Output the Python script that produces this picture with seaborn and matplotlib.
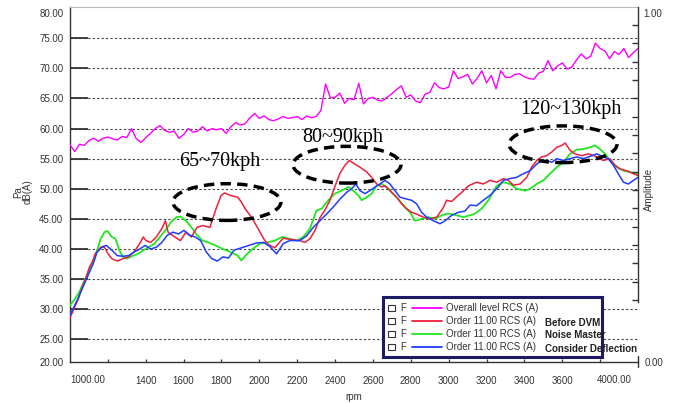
import numpy as np
import pandas as pd
import matplotlib
matplotlib.use('Agg')
import matplotlib.pyplot as plt
import seaborn as sns
from matplotlib.patches import Ellipse, Rectangle
from matplotlib.lines import Line2D

sns.set_theme(style='white')
plt.rcParams['font.family'] = ['Liberation Sans', 'DejaVu Sans']

# ---------------- data ----------------
overall_rpm = np.arange(1000, 4001, 25)
overall_db = [
    57.3, 56.2, 57.4, 57.2, 58.0, 58.4, 57.9, 58.4, 58.6, 58.3,
    58.1, 58.7, 58.5, 60.0, 58.3, 57.7, 58.5, 59.2, 60.0, 60.5,
    59.7, 59.4, 59.6, 58.4, 59.0, 60.0, 59.4, 59.6, 60.3, 59.6,
    60.0, 59.8, 60.0, 59.2, 60.3, 61.0, 60.6, 60.8, 61.8, 62.5,
    61.7, 62.1, 61.5, 61.3, 61.6, 62.0, 61.7, 61.8, 62.0, 61.5,
    62.1, 61.8, 62.0, 63.0, 67.4, 65.1, 65.2, 65.9, 64.2, 65.0,
    64.8, 67.5, 64.1, 65.0, 65.2, 64.7, 64.6, 65.2, 65.8, 66.5,
    67.1, 65.2, 65.6, 64.6, 64.3, 65.7, 66.0, 67.6, 66.8, 66.6,
    66.9, 69.6, 68.3, 68.6, 69.0, 67.4, 68.3, 69.6, 67.6, 68.8,
    66.6, 69.6, 68.5, 68.5, 69.0, 69.1, 68.6, 68.3, 68.2, 69.2,
    69.5, 71.3, 69.6, 70.4, 70.9, 69.9, 70.2, 71.4, 72.4, 71.6,
    72.0, 74.2, 73.3, 72.9, 71.6, 72.8, 72.3, 73.3, 71.8, 72.6,
    73.3]

red_rpm = [1000, 1006, 1025, 1045, 1064, 1084, 1103, 1120, 1133, 1150, 1162, 1182, 1201, 1221, 1250,
           1280, 1309, 1338, 1368, 1387, 1401, 1426, 1456, 1485, 1504, 1518, 1544, 1583, 1612, 1641,
           1671, 1700, 1739, 1768, 1798, 1817, 1847, 1886, 1905, 1925, 1964, 1993, 2023, 2042, 2056,
           2082, 2109, 2126, 2162, 2214, 2241, 2267, 2294, 2320, 2347, 2373, 2399, 2426, 2452, 2475,
           2505, 2531, 2567, 2593, 2620, 2646, 2664, 2690, 2725, 2752, 2778, 2804, 2831, 2866, 2901,
           2937, 2972, 2989, 3016, 3042, 3069, 3104, 3148, 3183, 3218, 3254, 3289, 3315, 3342, 3377,
           3412, 3438, 3465, 3491, 3518, 3544, 3571, 3597, 3615, 3641, 3667, 3703, 3738, 3782, 3817,
           3852, 3879, 3905, 3940, 3976, 4000]
red_db = [28.6, 29.0, 30.4, 31.8, 33.7, 35.2, 37.0, 38.0, 39.2, 39.8, 40.3, 40.3, 39.2, 38.4, 38.0,
          38.4, 38.7, 39.5, 40.9, 42.0, 41.4, 41.1, 42.0, 43.4, 44.7, 42.8, 42.2, 41.4, 42.8, 42.0,
          43.6, 43.9, 43.6, 46.4, 48.9, 49.3, 48.9, 48.6, 47.8, 46.7, 45.0, 43.4, 41.7, 40.9, 40.6,
          40.2, 41.2, 41.8, 41.6, 41.4, 41.1, 41.7, 43.1, 45.2, 46.5, 48.1, 50.4, 52.6, 53.9, 54.7,
          54.1, 53.6, 52.8, 51.9, 50.8, 50.3, 50.5, 49.7, 48.6, 47.5, 46.7, 46.1, 45.8, 45.3, 45.0,
          45.3, 46.9, 48.1, 47.9, 48.7, 49.4, 50.5, 51.1, 50.8, 51.4, 51.1, 51.7, 51.4, 50.6, 50.8,
          51.9, 53.6, 54.7, 55.3, 55.5, 56.1, 56.9, 57.2, 57.6, 56.4, 55.8, 55.5, 55.8, 55.3, 54.7,
          55.0, 53.9, 53.3, 53.0, 52.5, 52.2]

green_rpm = [1000, 1045, 1084, 1123, 1143, 1162, 1182, 1197, 1221, 1240, 1260, 1280, 1299, 1328, 1358,
             1387, 1416, 1446, 1475, 1504, 1534, 1563, 1583, 1612, 1641, 1671, 1700, 1729, 1768, 1808,
             1847, 1886, 1905, 1935, 1964, 2003, 2042, 2081, 2121, 2160, 2199, 2232, 2267, 2302, 2329,
             2364, 2399, 2435, 2470, 2496, 2523, 2540, 2567, 2593, 2620, 2646, 2672, 2699, 2734, 2769,
             2796, 2822, 2857, 2893, 2928, 2963, 2998, 3042, 3077, 3113, 3139, 3174, 3210, 3254, 3289,
             3324, 3359, 3403, 3430, 3465, 3500, 3535, 3571, 3606, 3641, 3676, 3711, 3747, 3773, 3799,
             3826, 3852, 3887, 3923, 3958, 4000]
green_db = [30.6, 32.6, 35.3, 38.1, 39.8, 41.7, 42.8, 43.0, 42.0, 41.7, 39.8, 38.7, 38.4, 38.8, 39.2,
            39.8, 40.3, 40.9, 42.0, 43.1, 44.5, 45.3, 45.4, 44.7, 43.6, 42.3, 41.4, 41.1, 40.6, 40.0,
            39.5, 38.9, 38.1, 39.2, 40.0, 40.9, 41.1, 41.4, 42.0, 41.7, 41.4, 42.0, 43.4, 46.4, 46.7,
            48.1, 49.2, 49.7, 50.3, 49.7, 48.9, 48.1, 48.6, 49.2, 50.5, 50.8, 50.3, 49.4, 48.3, 46.9,
            46.1, 44.7, 45.0, 45.3, 45.0, 45.6, 45.9, 45.6, 45.3, 45.6, 45.9, 46.7, 48.1, 50.5, 51.1,
            50.8, 50.0, 49.7, 50.0, 50.8, 51.4, 52.5, 53.6, 54.4, 55.8, 56.5, 56.6, 56.9, 57.2, 56.6,
            55.8, 54.7, 53.6, 53.0, 52.8, 52.5]

blue_rpm = [1000, 1045, 1084, 1123, 1143, 1172, 1192, 1221, 1250, 1280, 1309, 1338, 1368, 1397, 1426,
            1456, 1485, 1514, 1544, 1573, 1602, 1632, 1661, 1690, 1720, 1749, 1778, 1808, 1837, 1866,
            1905, 1945, 1984, 2023, 2056, 2091, 2126, 2162, 2214, 2250, 2285, 2320, 2355, 2391, 2426,
            2461, 2487, 2510, 2531, 2558, 2584, 2611, 2637, 2664, 2690, 2716, 2743, 2778, 2804, 2831,
            2857, 2884, 2919, 2954, 2981, 3016, 3051, 3086, 3113, 3148, 3183, 3218, 3262, 3289, 3324,
            3359, 3394, 3430, 3465, 3491, 3518, 3544, 3571, 3606, 3641, 3676, 3711, 3747, 3782, 3817,
            3843, 3870, 3896, 3923, 3949, 3976, 4000]
blue_db = [29.0, 32.0, 34.8, 37.6, 39.5, 40.4, 40.6, 39.8, 38.9, 38.8, 38.9, 39.5, 40.0, 40.6, 40.0,
           40.3, 41.1, 42.3, 42.8, 42.5, 43.1, 42.3, 42.0, 41.4, 39.5, 38.4, 38.0, 38.7, 38.5, 39.8,
           40.2, 40.6, 41.0, 41.1, 40.4, 39.2, 40.9, 41.4, 41.4, 42.2, 43.6, 44.7, 45.8, 47.0, 48.3,
           49.4, 50.0, 50.8, 49.7, 49.2, 49.7, 50.3, 50.8, 51.4, 50.8, 49.7, 48.6, 48.3, 48.1, 47.5,
           46.1, 45.3, 44.7, 44.2, 44.7, 45.6, 46.1, 46.3, 47.3, 47.2, 48.1, 48.9, 50.3, 51.4, 51.7,
           51.9, 52.5, 53.0, 54.1, 54.7, 54.7, 54.4, 55.0, 54.7, 55.0, 55.3, 55.0, 55.4, 55.8, 55.3,
           55.0, 53.9, 52.5, 51.1, 50.8, 51.4, 51.9]

series_labels = ['Overall level RCS (A)', 'Order 11.00 RCS (A)', 'Order 11.00 RCS (A)', 'Order 11.00 RCS (A)']
series_notes = ['', 'Before DVM', 'Noise Master', 'Consider Deflection']
series_colors = ['#ff00ff', '#f0203a', '#22e622', '#1f3cff']

speed_labels = ['65~70kph', '80~90kph', '120~130kph']
speed_label_rpm = [1790, 2439, 3644]
speed_label_db = [53.86, 57.73, 62.44]
ellipse_rpm = [1829, 2463, 3604]
ellipse_db = [47.8, 54.0, 57.4]

x_tick_vals = [1200, 1400, 1600, 1800, 2000, 2200, 2400, 2600, 2800, 3000, 3200, 3400, 3600, 3800]
x_tick_labels = ['', '1400', '1600', '1800', '2000', '2200', '2400', '2600', '2800', '3000',
                 '3200', '3400', '3600', '']
y_tick_vals = [25, 30, 35, 40, 45, 50, 55, 60, 65, 70, 75]

# ---------------- figure ----------------
W, H = 674, 403
fig = plt.figure(figsize=(W / 100, H / 100), dpi=100)
fig.patch.set_facecolor('white')
L, R, T, B = 70, 638, 7, 362
ax = fig.add_axes([L / W, 1 - B / H, (R - L) / W, (B - T) / H])
ax.set_facecolor('white')
ax.set_xlim(1000, 4000)
ax.set_ylim(21.24, 80.19)

txtc = '#333333'

# lines
sns.lineplot(x=overall_rpm, y=overall_db, ax=ax, color=series_colors[0], lw=1.0,
             estimator=None, sort=False, zorder=3)
sns.lineplot(x=green_rpm, y=green_db, ax=ax, color=series_colors[2], lw=1.3,
             estimator=None, sort=False, zorder=3)
sns.lineplot(x=red_rpm, y=red_db, ax=ax, color=series_colors[1], lw=1.1,
             estimator=None, sort=False, zorder=3)
sns.lineplot(x=blue_rpm, y=blue_db, ax=ax, color=series_colors[3], lw=1.1,
             estimator=None, sort=False, zorder=3)

# grid and ticks
ax.set_yticks(y_tick_vals)
ax.set_yticklabels([f'{v:.2f}' for v in y_tick_vals])
ax.grid(axis='y', linestyle=(0, (2, 2)), color='#444444', lw=0.8)
ax.grid(axis='x', visible=False)
ax.tick_params(axis='y', direction='in', length=13, width=1.3, color='#333333',
               pad=4.8, labelsize=7, labelcolor=txtc, left=True)
ax.set_xticks(x_tick_vals)
ax.set_xticklabels(x_tick_labels)
ax.set_xticks([2000, 3000], minor=True)
ax.tick_params(axis='x', which='major', direction='in', length=2.5, width=0.9,
               color='#333333', pad=10, labelsize=7, labelcolor=txtc, bottom=True)
ax.tick_params(axis='x', which='minor', direction='in', length=8, width=0.9,
               color='#333333', bottom=True)

for s in ['left', 'bottom']:
    ax.spines[s].set_color('#333333')
    ax.spines[s].set_linewidth(1.0)
ax.spines['top'].set_color('#bbbbbb')
ax.spines['top'].set_linewidth(0.8)
ax.spines['right'].set_visible(False)

ax.text(0.001, -18 / 355, '1000.00', transform=ax.transAxes, ha='left', va='center',
        fontsize=7, color=txtc)
ax.text(0.9894, -18 / 355, '4000.00', transform=ax.transAxes, ha='right', va='center',
        fontsize=7, color=txtc)
ax.text(-6.7 / 568, (B - 14) / 355, '80.00', transform=ax.transAxes, ha='right', va='center',
        fontsize=7, color=txtc)
ax.text(-6.7 / 568, -1 / 355, '20.00', transform=ax.transAxes, ha='right', va='center',
        fontsize=7, color=txtc)

ax.set_ylabel('Pa\ndB(A)', fontsize=7, color=txtc, linespacing=1.0)
ax.yaxis.set_label_coords(-(70 - 33) / 568, 0.479)
ax.set_xlabel('rpm', fontsize=7, color=txtc)
ax.xaxis.set_label_coords(0.5, -(392 - 362) / 355)

# ellipses + speed annotations
for cx, cy in zip(ellipse_rpm, ellipse_db):
    ax.add_patch(Ellipse((cx, cy), width=570, height=6.1, fill=False, ec='black', lw=2.5,
                         ls=(0, (3, 1.8)), zorder=5))
for lbl, x, y in zip(speed_labels, speed_label_rpm, speed_label_db):
    ax.text(x, y, lbl, family=['Liberation Serif', 'DejaVu Serif'], fontsize=14.5,
            ha='center', va='baseline', color='black', zorder=6)

# right amplitude axis
ax2 = ax.twinx()
ax2.set_ylim(0, 1)
ax2.set_yticks(list(np.linspace(0.175, 0.949, 16)))
ax2.set_yticklabels([])
ax2.tick_params(axis='y', direction='in', length=4.3, width=1.0, color='#333333',
                right=True, left=False, labelright=False)
for s in ['left', 'top', 'bottom']:
    ax2.spines[s].set_visible(False)
ax2.spines['right'].set_color('#333333')
ax2.spines['right'].set_linewidth(1.0)
ax2.spines['right'].set_bounds(0.169, 1.0)
ax2.add_line(Line2D([1, 1], [-0.014, 0.017], transform=ax2.transAxes, color='#333333',
                    lw=1.0, clip_on=False))
ax2.text(1.0088, (B - 14) / 355, '1.00', transform=ax2.transAxes, ha='left', va='center',
         fontsize=7, color=txtc)
ax2.text(1.0123, -1 / 355, '0.00', transform=ax2.transAxes, ha='left', va='center',
         fontsize=7, color=txtc)
ax2.set_ylabel('Amplitude', fontsize=7, color=txtc)
ax2.yaxis.set_label_coords((644 - 70) / 568, 0.485)

# legend box
def ax_x(px):
    return (px - L) / (R - L)

def ax_y(py):
    return (B - py) / (B - T)

ax2.add_patch(Rectangle((ax_x(383), ax_y(357)), ax_x(602) - ax_x(383), ax_y(297) - ax_y(357),
                        transform=ax2.transAxes, fc='white', ec='#1a1a66', lw=2.2, zorder=10))
rows_py = [308, 321, 334, 347]
for py, lbl, note, col in zip(rows_py, series_labels, series_notes, series_colors):
    yy = ax_y(py)
    ax2.add_patch(Rectangle((ax_x(388.3), yy - 3.3 / 355), 6.5 / 568, 6.5 / 355,
                            transform=ax2.transAxes, fc='white', ec='#333333', lw=0.8, zorder=11))
    ax2.text(ax_x(400), yy, 'F', transform=ax2.transAxes, ha='left', va='center',
             fontsize=7, color=txtc, zorder=11)
    ax2.add_line(Line2D([ax_x(412), ax_x(442)], [yy, yy], transform=ax2.transAxes,
                        color=col, lw=1.3, zorder=11))
    ax2.text(ax_x(446), yy, lbl, transform=ax2.transAxes, ha='left', va='center',
             fontsize=7, color=txtc, zorder=11)
    if note:
        ax2.text(ax_x(545), yy - 1.5 / 355, note, transform=ax2.transAxes, ha='left',
                 va='center', fontsize=7, fontweight='bold', color='#222222', zorder=11)

fig.savefig('out.png', dpi=100, facecolor='white')
